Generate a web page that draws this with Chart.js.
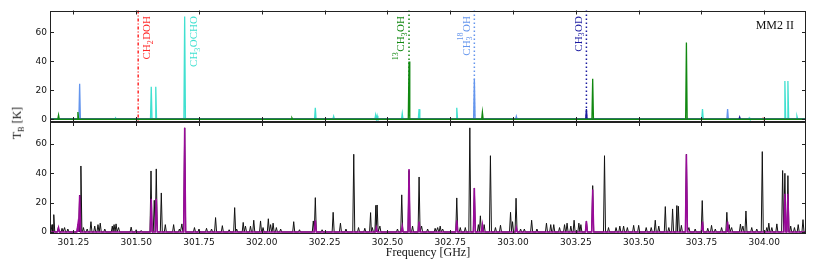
<!DOCTYPE html>
<html>
<head>
<meta charset="utf-8">
<script src="https://cdn.jsdelivr.net/npm/chart.js@4.4.0/dist/chart.umd.min.js"></script>
<style>
  body { margin: 0; background: #fff; width: 831px; height: 267px; overflow: hidden; position: relative; }
  canvas { position: absolute; left: 0; }
  #top { top: 0; }
  #bottom { top: 121px; }
  #ylab { position: absolute; left: 18px; top: 123px; transform: translate(-50%, -50%) rotate(-90deg);
          font: 12px "Liberation Serif"; white-space: nowrap; color: #111; }
  #ylab sub { font-size: 8px; }
</style>
</head>
<body>
<canvas id="top" width="831" height="122"></canvas>
<canvas id="bottom" width="831" height="146"></canvas>
<div id="ylab">T<sub>B</sub> [K]</div>
<script>
// axis range and ticks (GHz, K)
const xMin = 301.157, xMax = 304.166;
const freqTicks = [301.25, 301.50, 301.75, 302.00, 302.25, 302.50, 302.75, 303.00, 303.25, 303.50, 303.75, 304.00];
const tbTicks = [0, 20, 40, 60];

// identified species, marked in the top panel
const speciesFreq  = [301.508, 301.693, 302.586, 302.846, 303.292];
const speciesColor = ['#ff2a2a', '#40e0d0', '#118811', '#6495ed', '#1a1aa0'];
const speciesDash  = [[3, 2, 1, 2], null, [1.5, 2.5], [1.5, 2.5], [1.5, 2.5]];
const speciesLabel = [
  [{t: 'CH'}, {sub: '2'}, {t: 'DOH'}],
  [{t: 'CH'}, {sub: '3'}, {t: 'OCHO'}],
  [{sup: '13'}, {t: 'CH'}, {sub: '3'}, {t: 'OH'}],
  [{t: 'CH'}, {sub: '3', sup: '18'}, {t: 'OH'}],
  [{t: 'CH'}, {sub: '3'}, {t: 'OD'}]
];
const speciesSide = [1, 1, -1, -1, -1];

// synthetic spectra per species (line centre, peak T_B)
const ch3ochoFreq = [301.418, 301.560, 301.578, 301.693, 302.213, 302.286, 302.453, 302.459, 302.559, 302.626, 302.776, 303.754, 303.940, 304.082, 304.094, 304.130];
const ch3ochoTb   = [1, 22.5, 22.5, 71, 8, 2, 3, 2.5, 4, 7, 8, 7, 1, 26.5, 26.5, 2];
const c13Freq = [301.191, 301.268, 302.120, 302.586, 302.878, 303.317, 303.690];
const c13Tb   = [3, 5, 1, 40, 5, 28, 53];
const o18Freq = [301.275, 302.846, 303.013, 303.854];
const o18Tb   = [24.5, 28, 2, 7];
const ch3odFreq = [303.292, 303.902];
const ch3odTb   = [7, 1.5];
const ch2dohFreq = [303.995];
const ch2dohTb   = [0.8];

// observed spectrum (peaks) and full model
const obsFreq = [301.165, 301.172, 301.190, 301.205, 301.215, 301.228, 301.268, 301.275, 301.280, 301.290, 301.305, 301.320, 301.335, 301.348, 301.357, 301.375,
  301.405, 301.412, 301.420, 301.430, 301.480, 301.500, 301.520, 301.559, 301.572, 301.580, 301.600, 301.616, 301.649, 301.672, 301.682, 301.693,
  301.732, 301.750, 301.780, 301.800, 301.816, 301.843, 301.870, 301.892, 301.900, 301.926, 301.935, 301.955, 301.968, 301.995, 302.005, 302.026,
  302.035, 302.045, 302.058, 302.075, 302.127, 302.150, 302.205, 302.213, 302.240, 302.284, 302.313, 302.335, 302.366, 302.385, 302.410, 302.433,
  302.440, 302.454, 302.459, 302.470, 302.540, 302.557, 302.586, 302.600, 302.626, 302.636, 302.660, 302.690, 302.700, 302.710, 302.720, 302.776,
  302.790, 302.810, 302.828, 302.846, 302.862, 302.870, 302.885, 302.910, 302.930, 302.950, 302.990, 302.998, 303.012, 303.030, 303.045, 303.074,
  303.095, 303.133, 303.150, 303.162, 303.185, 303.205, 303.215, 303.230, 303.243, 303.262, 303.270, 303.292, 303.317, 303.364, 303.380, 303.410,
  303.425, 303.440, 303.455, 303.480, 303.500, 303.530, 303.550, 303.566, 303.580, 303.606, 303.620, 303.635, 303.652, 303.658, 303.670, 303.690,
  303.700, 303.725, 303.753, 303.775, 303.790, 303.805, 303.830, 303.851, 303.860, 303.870, 303.905, 303.915, 303.927, 303.950, 303.970, 303.992,
  304.010, 304.018, 304.030, 304.050, 304.073, 304.082, 304.094, 304.105, 304.120, 304.135, 304.154];
const obsTb = [5, 11.8, 3, 2.5, 3, 2, 5, 25, 45, 3, 2, 7, 4, 5, 6, 2,
  4, 5, 5.5, 3, 3.3, 1.5, 1, 41.6, 21.6, 43, 26.6, 5, 5, 2, 5.5, 71,
  3, 2, 2.5, 2, 9.8, 4.3, 1.5, 16.6, 2, 6.5, 4, 4, 8, 7.5, 3, 9,
  5, 6, 3, 2, 7, 1.5, 7.5, 23.4, 1.5, 13.4, 6, 2, 53, 3, 2.5, 13.2,
  3, 18.2, 18.4, 4, 2, 25.3, 42, 4, 37.5, 4, 2, 2.5, 3, 4, 2, 23.2,
  3, 3, 71, 30, 5, 11, 5, 52, 3, 4.6, 13.4, 7, 23, 2, 2, 8,
  2, 6, 5, 5, 3, 5, 6, 4, 8, 6, 5, 7.5, 31.6, 52, 3, 3,
  4, 4, 3, 4.5, 4.5, 3, 3, 8, 4, 17.3, 3, 15.7, 18, 17.5, 4.5, 53,
  3, 2, 21.4, 2.5, 4.5, 2, 3, 13.4, 5, 3, 5.4, 4, 14.3, 3, 2, 54.8,
  3, 6, 3, 5.5, 41.9, 40, 38.4, 4, 3, 5, 8.4];
const modelFreq = [301.191, 301.268, 301.275, 301.560, 301.580, 301.693, 302.213, 302.456, 302.559, 302.586, 302.626, 302.776, 302.846, 302.878,
  303.013, 303.292, 303.317, 303.690, 303.754, 303.854, 304.082, 304.094];
const modelTb = [3, 5, 25, 22.7, 22.7, 71, 8, 3, 4, 43, 7, 8, 30, 5, 3, 7.5, 29, 53, 7, 7, 26, 26];

function spikes(freqs, tb, hw) {
  const pts = [{x: xMin, y: 0}, {x: xMax, y: 0}];
  freqs.forEach((f, i) => pts.push({x: f - hw, y: 0}, {x: f, y: tb[i]}, {x: f + hw, y: 0}));
  return pts.sort((a, b) => a.x - b.x);
}

function line(data, color, w) {
  return {data, borderColor: color, borderWidth: w, pointRadius: 0, tension: 0, fill: false};
}

const tickFont = {family: 'DejaVu Sans', size: 9};

// box round the plot area with inward ticks on all sides
const frame = {
  id: 'frame',
  afterDraw(chart) {
    const {ctx, chartArea: a, scales: {x, y}} = chart;
    ctx.save();
    ctx.strokeStyle = '#222';
    ctx.lineWidth = 1;
    ctx.strokeRect(Math.round(a.left) + .5, Math.round(a.top) + .5, Math.round(a.width) - 1, Math.round(a.height) - 1);
    ctx.beginPath();
    x.ticks.forEach(t => {
      const p = Math.round(x.getPixelForValue(t.value)) + .5;
      ctx.moveTo(p, a.bottom); ctx.lineTo(p, a.bottom - 4);
      ctx.moveTo(p, a.top); ctx.lineTo(p, a.top + 4);
    });
    y.ticks.forEach(t => {
      const p = Math.round(y.getPixelForValue(t.value)) + .5;
      ctx.moveTo(a.left, p); ctx.lineTo(a.left + 4, p);
      ctx.moveTo(a.right, p); ctx.lineTo(a.right - 4, p);
    });
    ctx.stroke();
    ctx.restore();
  }
};

function richWidth(ctx, parts) {
  let w = 0;
  parts.forEach(p => {
    if (p.t) { ctx.font = '11px "Liberation Serif"'; w += ctx.measureText(p.t).width; }
    else {
      ctx.font = '8px "Liberation Serif"';
      w += Math.max(p.sub ? ctx.measureText(p.sub).width : 0, p.sup ? ctx.measureText(p.sup).width : 0) + 0.5;
    }
  });
  return w;
}

function drawRich(ctx, parts, cx, topY, color) {
  const total = richWidth(ctx, parts);
  ctx.save();
  ctx.translate(cx, topY);
  ctx.rotate(-Math.PI / 2);
  ctx.fillStyle = color;
  ctx.textBaseline = 'alphabetic';
  let x = -total;
  parts.forEach(p => {
    if (p.t) {
      ctx.font = '11px "Liberation Serif"';
      ctx.fillText(p.t, x, 3.8);
      x += ctx.measureText(p.t).width;
    } else {
      ctx.font = '8px "Liberation Serif"';
      let w = 0;
      if (p.sub) { ctx.fillText(p.sub, x, 6.5); w = ctx.measureText(p.sub).width; }
      if (p.sup) { ctx.fillText(p.sup, x, -2.5); w = Math.max(w, ctx.measureText(p.sup).width); }
      x += w + 0.5;
    }
  });
  ctx.restore();
}

const markers = {
  id: 'markers',
  beforeDatasetsDraw(chart) {
    const {ctx, chartArea: a, scales: {x}} = chart;
    ctx.save();
    ctx.lineWidth = 1.5;
    speciesFreq.forEach((f, i) => {
      if (!speciesDash[i]) return;
      const p = x.getPixelForValue(f);
      ctx.strokeStyle = speciesColor[i];
      ctx.setLineDash(speciesDash[i]);
      ctx.beginPath();
      ctx.moveTo(p, a.top);
      ctx.lineTo(p, a.bottom);
      ctx.stroke();
    });
    ctx.restore();
  },
  afterDraw(chart) {
    const {ctx, chartArea: a, scales: {x}} = chart;
    speciesFreq.forEach((f, i) => {
      drawRich(ctx, speciesLabel[i], x.getPixelForValue(f) + 8.5 * speciesSide[i], a.top + 5.5, speciesColor[i]);
    });
    ctx.save();
    ctx.font = '12px "Liberation Serif"';
    ctx.fillStyle = '#111';
    ctx.textAlign = 'right';
    ctx.fillText('MM2 II', a.right - 12, a.top + 18);
    ctx.restore();
  }
};

function scales(yMin, yMax, xHeight, showX) {
  return {
    x: {
      type: 'linear', min: xMin, max: xMax,
      grid: {display: false, drawTicks: false}, border: {display: false},
      afterBuildTicks(s) { s.ticks = freqTicks.map(v => ({value: v})); },
      afterFit(s) { s.height = xHeight; s.paddingLeft = 0; s.paddingRight = 0; },
      ticks: {display: showX, font: tickFont, color: '#111', padding: 3, maxRotation: 0, callback: v => v.toFixed(2)},
      title: {display: showX, text: 'Frequency [GHz]', color: '#111', font: {family: 'Liberation Serif', size: 12}, padding: {top: 0, bottom: 7}}
    },
    y: {
      min: yMin, max: yMax,
      grid: {display: false, drawTicks: false}, border: {display: false},
      afterBuildTicks(s) { s.ticks = tbTicks.map(v => ({value: v})); },
      afterFit(s) { s.width = 50; s.paddingTop = 0; s.paddingBottom = 0; },
      ticks: {font: tickFont, color: '#111', padding: 3}
    }
  };
}

const common = {
  responsive: false, animation: false, events: [],
  plugins: {legend: {display: false}, tooltip: {enabled: false}}
};

// dataset 0 is drawn on top
new Chart(document.getElementById('top'), {
  type: 'line',
  data: {datasets: [
    line(spikes(c13Freq, c13Tb, 0.003), speciesColor[2], 1.3),
    line(spikes(ch3odFreq, ch3odTb, 0.003), speciesColor[4], 1.3),
    line(spikes(o18Freq, o18Tb, 0.003), speciesColor[3], 1.3),
    line(spikes(ch3ochoFreq, ch3ochoTb, 0.003), speciesColor[1], 1.3),
    line(spikes(ch2dohFreq, ch2dohTb, 0.003), speciesColor[0], 1.3)
  ]},
  options: Object.assign({}, common, {
    layout: {padding: {left: 0, right: 25, top: 10.5, bottom: 0}},
    scales: scales(-1.2, 75.2, 1, false)
  }),
  plugins: [markers, frame]
});

new Chart(document.getElementById('bottom'), {
  type: 'line',
  data: {datasets: [
    line(spikes(modelFreq, modelTb, 0.004), '#9a0a9a', 1.5),
    line(spikes(obsFreq, obsTb, 0.004), '#111', 1)
  ]},
  options: Object.assign({}, common, {
    layout: {padding: {left: 0, right: 25, top: 1, bottom: 0}},
    scales: scales(-1.4, 75, 33, true)
  }),
  plugins: [frame]
});
</script>
</body>
</html>
